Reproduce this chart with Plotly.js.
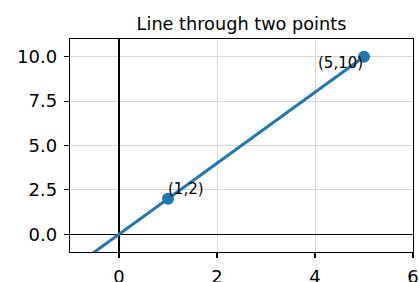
<!DOCTYPE html>
<html><head><meta charset="utf-8">
<script src="https://cdn.plot.ly/plotly-3.0.1.min.js"></script>
<style>html,body{margin:0;padding:0;background:#fff}#c{width:419px;height:282px}</style>
</head><body><div id="c"></div>
<script>
const lineX = [-1, 5];
const lineY = [-2, 10];
const pointX = [1, 5];
const pointY = [2, 10];
const pointLabels = ["(1,2)", "(5,10)"];
const xTicks = [0, 2, 4, 6];
const yTicks = [0, 2.5, 5, 7.5, 10];
const yTickText = ["0.0", "2.5", "5.0", "7.5", "10.0"];

const blue = "#1f77b4";
const traces = [
  {x: lineX, y: lineY, mode: "lines", line: {color: blue, width: 3}, hoverinfo: "skip"},
  {x: pointX, y: pointY, mode: "markers", marker: {color: blue, size: 12}}
];
const annotations = [
  {x: pointX[0], y: pointY[0], text: pointLabels[0], showarrow: false, xanchor: "left", yanchor: "bottom", yshift: -1, xshift: -2, font: {size: 15, color: "#000"}},
  {x: pointX[1], y: pointY[1], text: pointLabels[1], showarrow: false, xanchor: "right", yanchor: "middle", yshift: -6, xshift: 1, font: {size: 15, color: "#000"}}
];
const axisCommon = {
  showline: true, mirror: true, linecolor: "#000", linewidth: 1.2,
  ticks: "outside", ticklen: 5, tickwidth: 1.2, tickcolor: "#000",
  showgrid: true, gridcolor: "#d6d6d6", gridwidth: 1,
  zeroline: true, zerolinecolor: "#000", zerolinewidth: 1.5,
  tickfont: {size: 18, color: "#000"}
};
const layout = {
  width: 419, height: 282,
  margin: {l: 70, r: 6, t: 39, b: 30},
  paper_bgcolor: "#fff", plot_bgcolor: "#fff",
  font: {family: "DejaVu Sans", color: "#000"},
  showlegend: false,
  title: {text: "Line through two points", font: {size: 17.7, color: "#000"}, x: 0.5, xref: "paper", xanchor: "center", y: 1, yref: "paper", yanchor: "bottom", pad: {b: 9}},
  xaxis: Object.assign({}, axisCommon, {range: [-1, 6], tickvals: xTicks, ticklabelstandoff: 3}),
  yaxis: Object.assign({}, axisCommon, {range: [-1, 11], tickvals: yTicks, ticktext: yTickText, ticklabelstandoff: 3}),
  annotations: annotations
};
Plotly.newPlot("c", traces, layout, {staticPlot: true, displayModeBar: false});
</script></body></html>
